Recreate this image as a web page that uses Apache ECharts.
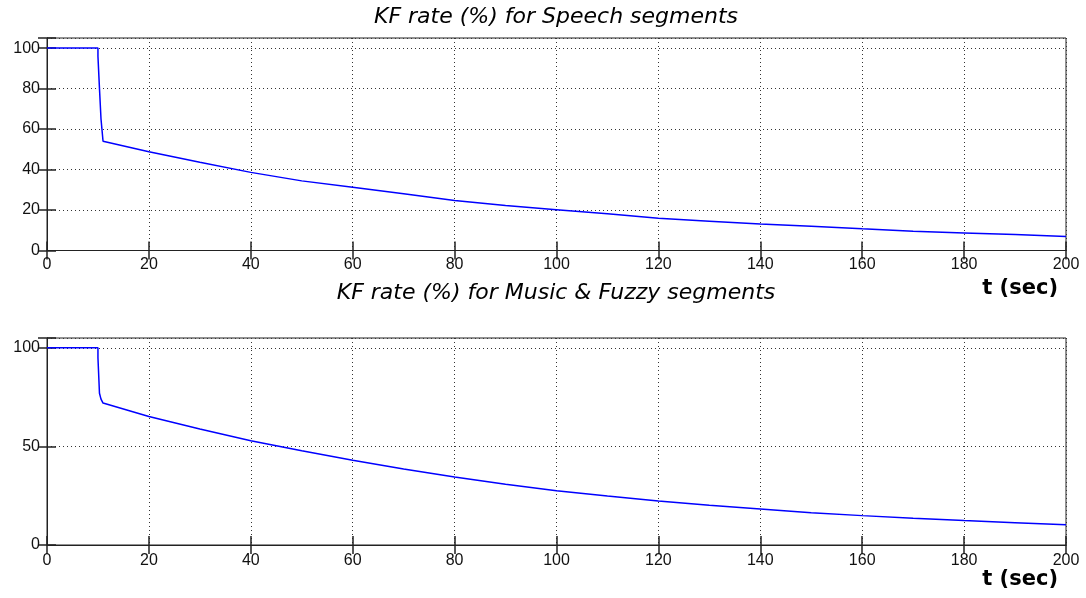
<!DOCTYPE html>
<html>
<head>
<meta charset="utf-8">
<script src="https://cdn.jsdelivr.net/npm/echarts@6/dist/echarts.min.js"></script>
<style>html,body{margin:0;padding:0;background:#fff}#c{width:1086px;height:598px}</style>
</head>
<body>
<div id="c"></div>
<script>
var titleTop = 'KF rate (%) for Speech segments';
var titleBottom = 'KF rate (%) for Music & Fuzzy segments';
var xLabel = 't (sec)';
var tSpeech = [0,10,10,10.3,10.6,11,20,30,40,50,60,70,80,90,100,110,120,130,140,150,160,170,180,190,200];
var speech  = [100,100,96,80,65,54,48.8,43.6,38.6,34.4,31.2,28.0,24.7,22.2,20.1,18.1,15.9,14.5,13.1,12.0,10.7,9.5,8.7,7.9,6.9];
var tMusic  = [0,10,10,10.3,10.6,11,20,30,40,50,60,70,80,90,100,110,120,130,140,150,160,170,180,190,200];
var music   = [100,100,95,77,74,72,65.2,58.8,52.9,47.8,43.0,38.5,34.5,30.8,27.5,24.8,22.3,20.2,18.3,16.4,14.9,13.6,12.4,11.3,10.3];
var xTicks = {min:0, max:200, interval:20};
var yTopTicks = {min:0, max:105, interval:20};
var yBotTicks = {min:0, max:105, interval:50};

function pairs(t, v){ return t.map(function(x,i){ return [x, v[i]]; }); }

var FONT = '"Liberation Sans", Arial, sans-serif';
var TFONT = '"DejaVu Sans", sans-serif';
var axColor = '#222';
var grid = [
  {left:47, right:20, top:38, height:212.5, show:true, borderColor:axColor, borderWidth:1},
  {left:47, right:20, top:338, height:207, show:true, borderColor:axColor, borderWidth:1}
];
function xMain(gi, mgTop){
  return {type:'value', gridIndex:gi, min:xTicks.min, max:xTicks.max, interval:xTicks.interval,
    axisLine:{show:true, lineStyle:{color:axColor, width:1}},
    axisTick:{show:true, inside:true, length:9, lineStyle:{color:axColor, width:1.5}},
    axisLabel:{show:true, color:'#111', fontFamily:FONT, fontSize:16, margin:mgTop},
    splitLine:{show:true, lineStyle:{color:'#333', type:[1,3], width:1}}};
}
function xMirror(gi){
  return {type:'value', gridIndex:gi, position:'top', min:xTicks.min, max:xTicks.max, interval:xTicks.interval,
    axisLine:{show:true, lineStyle:{color:axColor}},
    axisTick:{show:true, inside:true, length:9, lineStyle:{color:axColor, width:1.5}},
    axisLabel:{show:false}, splitLine:{show:false}};
}
function yMain(gi, tk){
  return {type:'value', gridIndex:gi, min:tk.min, max:tk.max, interval:tk.interval,
    axisLine:{show:true, lineStyle:{color:axColor}},
    axisTick:{show:true, inside:true, length:9, lineStyle:{color:axColor, width:1.5}},
    axisLabel:{show:true, color:'#111', fontFamily:FONT, fontSize:16, margin:7,
      formatter:function(v){ return (v % tk.interval === 0) ? String(v) : ''; }},
    splitLine:{show:true, lineStyle:{color:'#333', type:[1,3], width:1}}};
}
function yMirror(gi, tk){
  return {type:'value', gridIndex:gi, position:'right', min:tk.min, max:tk.max, interval:tk.interval,
    axisLine:{show:true, lineStyle:{color:axColor}},
    axisTick:{show:true, inside:true, length:9, lineStyle:{color:axColor, width:1.5}},
    axisLabel:{show:false}, splitLine:{show:false}};
}

var chart = echarts.init(document.getElementById('c'), null, {renderer:'canvas'});
chart.setOption({
  animation:false,
  backgroundColor:'#fff',
  grid: grid,
  xAxis:[xMain(0,6), xMirror(0), xMain(1,8), xMirror(1)],
  yAxis:[yMain(0,yTopTicks), yMirror(0,yTopTicks), yMain(1,yBotTicks), yMirror(1,yBotTicks)],
  series:[
    {type:'line', xAxisIndex:0, yAxisIndex:0, data:pairs(tSpeech, speech), showSymbol:false, symbol:'none',
     lineStyle:{color:'#0000ff', width:1.5}},
    {type:'line', xAxisIndex:2, yAxisIndex:2, data:pairs(tMusic, music), showSymbol:false, symbol:'none',
     lineStyle:{color:'#0000ff', width:1.5}}
  ],
  graphic:[
    {type:'text', x:556, y:17, style:{text:titleTop, textAlign:'center', textVerticalAlign:'middle',
      font:'italic 22px ' + TFONT, fill:'#000'}},
    {type:'text', x:556, y:293, style:{text:titleBottom, textAlign:'center', textVerticalAlign:'middle',
      font:'italic 22px ' + TFONT, fill:'#000'}},
    {type:'text', x:1058, y:289, style:{text:xLabel, textAlign:'right', textVerticalAlign:'middle',
      font:'bold 21px ' + TFONT, fill:'#000'}},
    {type:'text', x:1058, y:580, style:{text:xLabel, textAlign:'right', textVerticalAlign:'middle',
      font:'bold 21px ' + TFONT, fill:'#000'}}
  ]
});
</script>
</body>
</html>
